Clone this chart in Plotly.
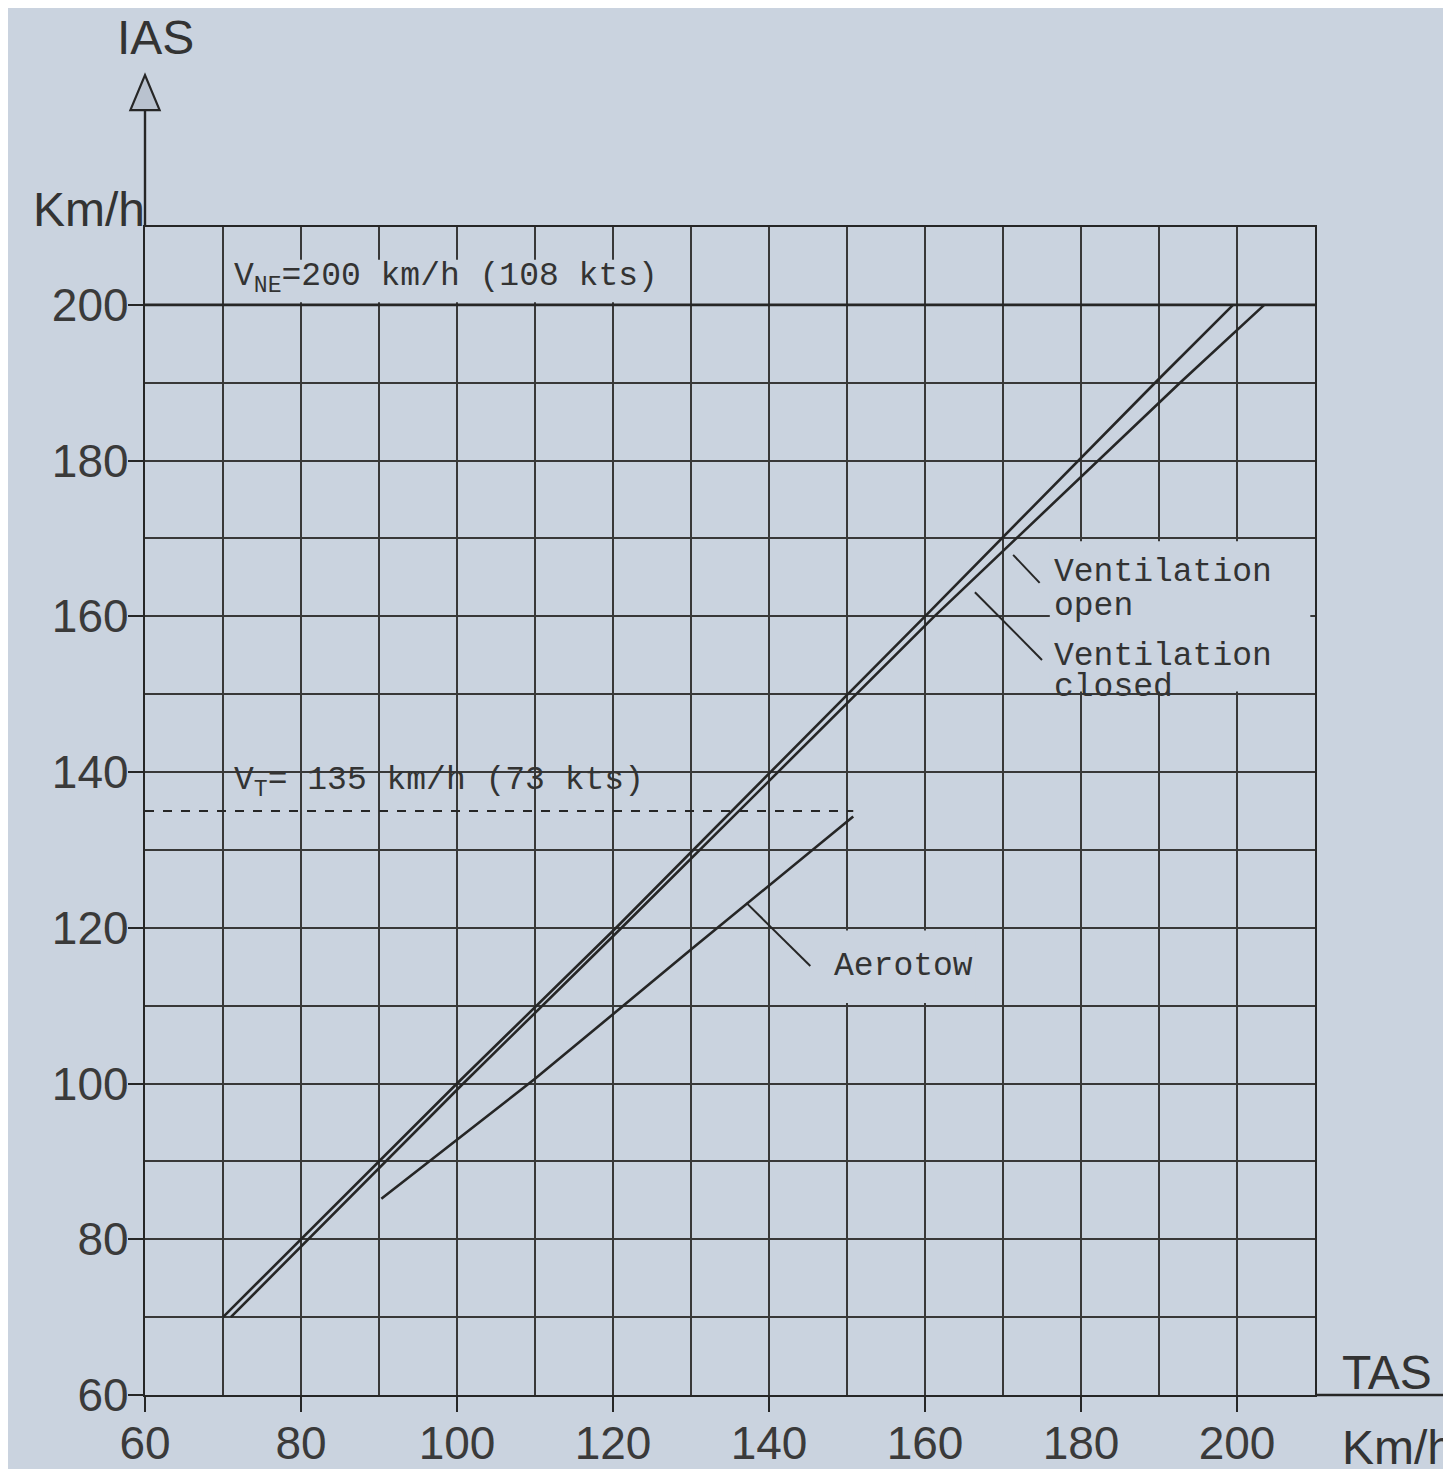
import plotly.graph_objects as go

# ---- data ----
ias_levels = [70, 80, 100, 120, 160, 190, 200]
tas_vent_open = [70, 80, 100, 120.4, 160, 189.5, 199.5]
tas_vent_closed = [71, 80.9, 100.8, 121.1, 161.2, 192.7, 203.5]

aerotow_tas = [90.3, 110, 130, 150.8]
aerotow_ias = [85.2, 100.6, 117.2, 134.3]

VNE = 200   # km/h (108 kts)
VT = 135    # km/h (73 kts)
vne_tas_span = [60, 210]
vt_tas_span = [60, 150.8]

x_ticks = [60, 80, 100, 120, 140, 160, 180, 200]
y_ticks = [60, 80, 100, 120, 140, 160, 180, 200]
axis_range = [60, 210]

BG = "#cad3df"
INK = "#262626"
GRID = "#383838"
MONO = "Courier New, Liberation Mono, monospace"
SANS = "Liberation Sans, Arial, sans-serif"

fig = go.Figure()

line_style = dict(color=INK, width=2.6)
fig.add_trace(go.Scatter(x=tas_vent_open, y=ias_levels, mode="lines",
                         line=line_style, name="Ventilation open"))
fig.add_trace(go.Scatter(x=tas_vent_closed, y=ias_levels, mode="lines",
                         line=line_style, name="Ventilation closed"))
fig.add_trace(go.Scatter(x=aerotow_tas, y=aerotow_ias, mode="lines",
                         line=line_style, name="Aerotow"))
fig.add_trace(go.Scatter(x=vne_tas_span, y=[VNE, VNE], mode="lines",
                         line=dict(color=INK, width=2.6), name="VNE"))
fig.add_trace(go.Scatter(x=vt_tas_span, y=[VT, VT], mode="lines",
                         line=dict(color=INK, width=2.2, dash="dash"), name="VT"))

shapes = []
# gaps in the grid behind the labels (paper coloured boxes)
for (x0, x1, y0, y1) in [(71.2, 129.4, 200.35, 205.8),
                         (176.0, 209.4, 150.35, 169.65),
                         (147.4, 166.5, 110.35, 119.65)]:
    shapes.append(dict(type="rect", xref="x", yref="y", x0=x0, x1=x1, y0=y0, y1=y1,
                       fillcolor=BG, line=dict(width=0), layer="between"))
# leader lines
for (x0, y0, x1, y1) in [(171.3, 167.9, 174.7, 164.3),
                         (166.4, 163.1, 175.0, 154.4),
                         (137.1, 123.2, 145.3, 115.1)]:
    shapes.append(dict(type="line", xref="x", yref="y", x0=x0, y0=y0, x1=x1, y1=y1,
                       line=dict(color=INK, width=2)))
# axis extensions and arrow
shapes.append(dict(type="line", xref="paper", yref="paper", x0=0, x1=0, y0=1, y1=1.103,
                   line=dict(color=INK, width=2.4)))
shapes.append(dict(type="path", xref="paper", yref="paper",
                   path="M -0.0125 1.100 L 0 1.1300 L 0.0125 1.100 Z",
                   fillcolor="#b9c2cf", line=dict(color=INK, width=2.2)))
shapes.append(dict(type="line", xref="paper", yref="paper", x0=1, x1=1.111, y0=0, y1=0,
                   line=dict(color=INK, width=2.4)))

txt = dict(family=MONO, size=33, color="#333333")
big = dict(family=SANS, size=48, color="#333333")
annotations = [
    dict(x=71.1, y=203.4, xref="x", yref="y", text="V<sub>NE</sub>=200 km/h (108 kts)",
         showarrow=False, xanchor="left", yanchor="middle", font=txt),
    dict(x=71.1, y=138.7, xref="x", yref="y", text="V<sub>T</sub>= 135 km/h (73 kts)",
         showarrow=False, xanchor="left", yanchor="middle", font=txt),
    dict(x=176.3, y=165.6, xref="x", yref="y", text="Ventilation",
         showarrow=False, xanchor="left", yanchor="middle", font=txt),
    dict(x=176.3, y=161.3, xref="x", yref="y", text="open",
         showarrow=False, xanchor="left", yanchor="middle", font=txt),
    dict(x=176.3, y=154.9, xref="x", yref="y", text="Ventilation",
         showarrow=False, xanchor="left", yanchor="middle", font=txt),
    dict(x=176.3, y=150.9, xref="x", yref="y", text="closed",
         showarrow=False, xanchor="left", yanchor="middle", font=txt),
    dict(x=148.1, y=115.0, xref="x", yref="y", text="Aerotow",
         showarrow=False, xanchor="left", yanchor="middle", font=txt),
    dict(x=0.0094, y=1.162, xref="paper", yref="paper", text="IAS",
         showarrow=False, xanchor="center", yanchor="middle", font=big),
    dict(x=0.002, y=1.0146, xref="paper", yref="paper", text="Km/h",
         showarrow=False, xanchor="right", yanchor="middle", font=big),
    dict(x=1.0214, y=0.019, xref="paper", yref="paper", text="TAS",
         showarrow=False, xanchor="left", yanchor="middle", font=big),
    dict(x=1.0214, y=-0.045, xref="paper", yref="paper", text="Km/h",
         showarrow=False, xanchor="left", yanchor="middle", font=big),
]

axis_common = dict(
    range=axis_range, tick0=60, dtick=20, ticks="outside", ticklen=15, tickwidth=2,
    tickcolor=INK, showgrid=True, gridcolor=GRID, gridwidth=1.8,
    minor=dict(dtick=10, tick0=60, showgrid=True, gridcolor=GRID, gridwidth=1.8, ticks=""),
    showline=True, mirror=True, linecolor=INK, linewidth=2.4, automargin=False,
    zeroline=False, tickfont=dict(family=SANS, size=46, color="#3a3a3a"),
)

fig.update_xaxes(**axis_common, tickvals=x_ticks, ticktext=[str(v) for v in x_ticks],
                 ticklabelstandoff=-8)
fig.update_yaxes(**axis_common, tickvals=y_ticks, ticktext=[str(v) for v in y_ticks],
                 ticklabelstandoff=-10)

fig.update_layout(
    width=1443, height=1461,
    margin=dict(l=137, r=136, t=219, b=74, autoexpand=False),
    paper_bgcolor=BG, plot_bgcolor=BG,
    showlegend=False,
    shapes=shapes, annotations=annotations,
)

fig.write_html("out.html")
